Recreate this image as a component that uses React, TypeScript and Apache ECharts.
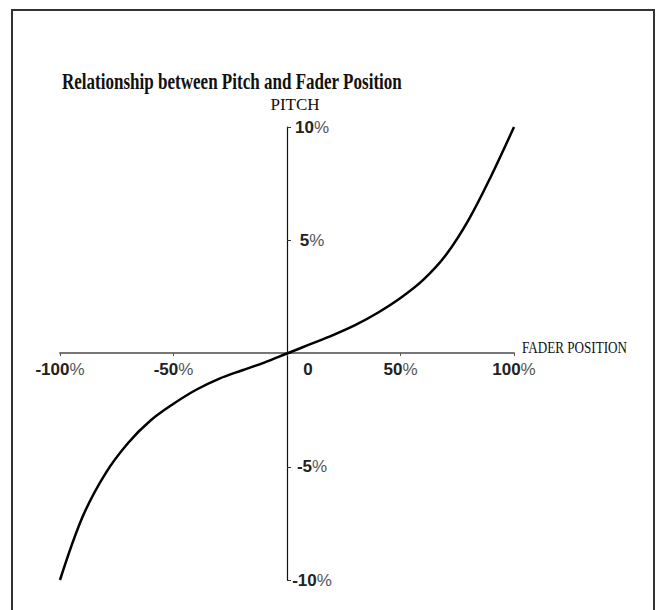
import React, { useEffect, useRef } from 'react';
import * as echarts from 'echarts';

const faderPositions = [-100, -90, -80, -70, -60, -50, -40, -30, -20, -10, 0, 10, 20, 30, 40, 50, 60, 70, 80, 90, 100];
const pitchValues = [-10, -7.2, -5.3, -3.95, -2.95, -2.22, -1.6, -1.12, -0.75, -0.4, 0, 0.4, 0.8, 1.25, 1.8, 2.45, 3.25, 4.35, 5.9, 7.85, 10];
const xTickValues = [-100, -50, 0, 50, 100];
const yTickValues = [-10, -5, 5, 10];
const titleText = 'Relationship between Pitch and Fader Position';
const yAxisName = 'PITCH';
const xAxisName = 'FADER POSITION';

export default function App() {
  const ref = useRef<HTMLDivElement>(null);
  useEffect(() => {
    document.body.style.margin = '0';
    const chart = echarts.init(ref.current!, null, { renderer: 'svg' });
    const rich = {
      n: { fontFamily: 'Liberation Sans', fontWeight: 'bold', fontSize: 17, color: '#222' },
      p: { fontFamily: 'Liberation Sans', fontWeight: 'normal', fontSize: 17, color: '#555' },
      z: { fontFamily: 'Liberation Sans', fontWeight: 'bold', fontSize: 17, color: '#222', padding: [0, 0, 0, 42] },
    };
    chart.setOption({
      animation: false,
      backgroundColor: '#fff',
      grid: { left: 60, right: 146, top: 127, bottom: 30 },
      xAxis: {
        type: 'value',
        min: -100,
        max: 100,
        interval: 50,
        position: 'bottom',
        offset: -227,
        splitLine: { show: false },
        axisLine: { onZero: false, lineStyle: { color: '#777', width: 2 } },
        axisTick: { show: true, length: 3, lineStyle: { color: '#555', width: 1 } },
        axisLabel: {
          margin: 8,
          formatter: (v: number) => (xTickValues.includes(v) ? (v === 0 ? '{z|0}' : `{n|${v}}{p|%}`) : ''),
          rich,
        },
      },
      yAxis: {
        type: 'value',
        min: -10,
        max: 10,
        interval: 5,
        position: 'left',
        offset: -227,
        splitLine: { show: false },
        axisLine: { onZero: false, lineStyle: { color: '#111', width: 1.2 } },
        axisTick: { show: true, inside: true, length: 4, lineStyle: { color: '#333', width: 1 } },
        axisLabel: {
          inside: true,
          align: 'center',
          margin: 25,
          formatter: (v: number) => (yTickValues.includes(v) ? `{n|${v}}{p|%}` : ''),
          rich,
        },
      },
      graphic: [
        {
          type: 'rect',
          shape: { x: 12, y: 10, width: 642, height: 640 },
          style: { fill: 'none', stroke: '#333', lineWidth: 2 },
          silent: true,
        },
        {
          type: 'text',
          x: 62,
          y: 81,
          scaleX: 0.71,
          style: {
            text: titleText,
            font: 'bold 24px "Liberation Serif"',
            fill: '#111',
            textVerticalAlign: 'middle',
          },
        },
        {
          type: 'text',
          x: 295,
          y: 104,
          style: {
            text: yAxisName,
            font: '17px "Liberation Serif"',
            fill: '#111',
            textAlign: 'center',
            textVerticalAlign: 'middle',
          },
        },
        {
          type: 'text',
          x: 522,
          y: 348,
          scaleX: 0.82,
          style: {
            text: xAxisName,
            font: '16px "Liberation Serif"',
            fill: '#111',
            textVerticalAlign: 'middle',
          },
        },
      ],
      series: [
        {
          type: 'line',
          data: faderPositions.map((x, i) => [x, pitchValues[i]]),
          smooth: 0.35,
          showSymbol: false,
          lineStyle: { color: '#000', width: 2.5 },
        },
      ],
    });
    return () => chart.dispose();
  }, []);
  return <div ref={ref} style={{ width: 660, height: 610 }} />;
}
